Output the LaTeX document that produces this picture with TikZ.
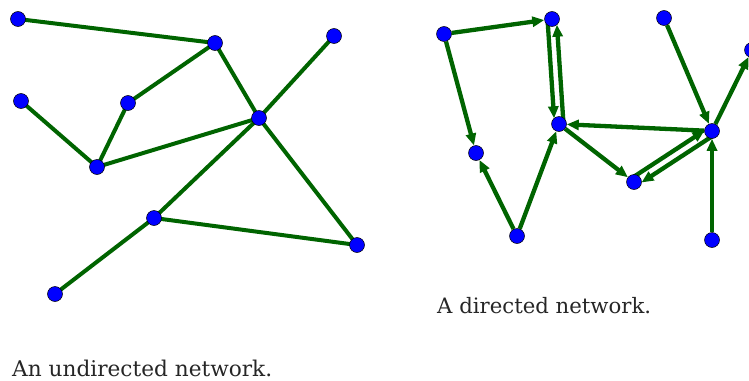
\documentclass[tikz,border=0pt]{standalone}
\usepackage{fontspec}
\setmainfont{DejaVu Serif}
\usetikzlibrary{arrows.meta,calc}
\definecolor{edgegreen}{RGB}{0,100,0}
\pgfdeclarelayer{bg}
\pgfsetlayers{bg,main}
\begin{document}
\begin{tikzpicture}[x=1pt,y=-1pt,
  vert/.style={circle,fill=blue,draw=black,line width=0.5pt,minimum size=15pt,inner sep=0pt},
  uedge/.style={draw=edgegreen,line width=4pt},
  dedge/.style={draw=edgegreen,line width=4.3pt,-{Triangle[length=12pt,width=10pt]}},
  pedge/.style={dedge,shorten >=6pt},
  caption/.style={anchor=base west,inner sep=0pt,text=black!85}
]
\useasboundingbox (0,0) rectangle (749,380);
\clip (0,0) rectangle (749,380);
% undirected network
\node[vert] (a1) at (18,19) {};
\node[vert] (a2) at (215,43) {};
\node[vert] (a3) at (334,36) {};
\node[vert] (a4) at (21,101) {};
\node[vert] (a5) at (128,103) {};
\node[vert] (a6) at (259,118) {};
\node[vert] (a7) at (97,167) {};
\node[vert] (a8) at (154,218) {};
\node[vert] (a9) at (357,245) {};
\node[vert] (a10) at (55,294) {};
\begin{pgfonlayer}{bg}
\draw[uedge] (a1.center) -- (a2.center);
\draw[uedge] (a2.center) -- (a5.center);
\draw[uedge] (a2.center) -- (a6.center);
\draw[uedge] (a3.center) -- (a6.center);
\draw[uedge] (a4.center) -- (a7.center);
\draw[uedge] (a5.center) -- (a7.center);
\draw[uedge] (a7.center) -- (a6.center);
\draw[uedge] (a6.center) -- (a8.center);
\draw[uedge] (a6.center) -- (a9.center);
\draw[uedge] (a8.center) -- (a9.center);
\draw[uedge] (a8.center) -- (a10.center);
\end{pgfonlayer}
% directed network
\node[vert] (b1) at (444,34) {};
\node[vert] (b2) at (552,19) {};
\node[vert] (b3) at (664,18) {};
\node[vert] (b4) at (752,50) {};
\node[vert] (b5) at (559,124) {};
\node[vert] (b6) at (476,153) {};
\node[vert] (b7) at (712,131) {};
\node[vert] (b8) at (634,182) {};
\node[vert] (b9) at (517,236) {};
\node[vert] (b10) at (712,240) {};
\begin{pgfonlayer}{bg}
\draw[dedge] (b1) -- (b2);
\draw[dedge] (b1) -- (b6);
\draw[dedge] (b9) -- (b6);
\draw[dedge] (b9) -- (b5);
\draw[dedge] (b7) -- (b5);
\draw[dedge] (b5) -- (b8);
\draw[dedge] (b3) -- (b7);
\draw[dedge] (b7) -- (b4);
\draw[dedge] (b10) -- (b7);
\draw[pedge] ($(b2)!4.5pt!-90:(b5)$) -- ($(b5)!4.5pt!90:(b2)$);
\draw[pedge] ($(b5)!4.5pt!-90:(b2)$) -- ($(b2)!4.5pt!90:(b5)$);
\draw[pedge] ($(b8)!4.5pt!90:(b7)$) -- ($(b7)!4.5pt!-90:(b8)$);
\draw[pedge] ($(b7)!4.5pt!90:(b8)$) -- ($(b8)!4.5pt!-90:(b7)$);
\end{pgfonlayer}
% captions
\node[caption] (cap1) at (12,376) {\resizebox{260pt}{!}{An undirected network.}};
\node[caption] (cap2) at (437,313) {\resizebox{214pt}{!}{A directed network.}};
\end{tikzpicture}
\end{document}
